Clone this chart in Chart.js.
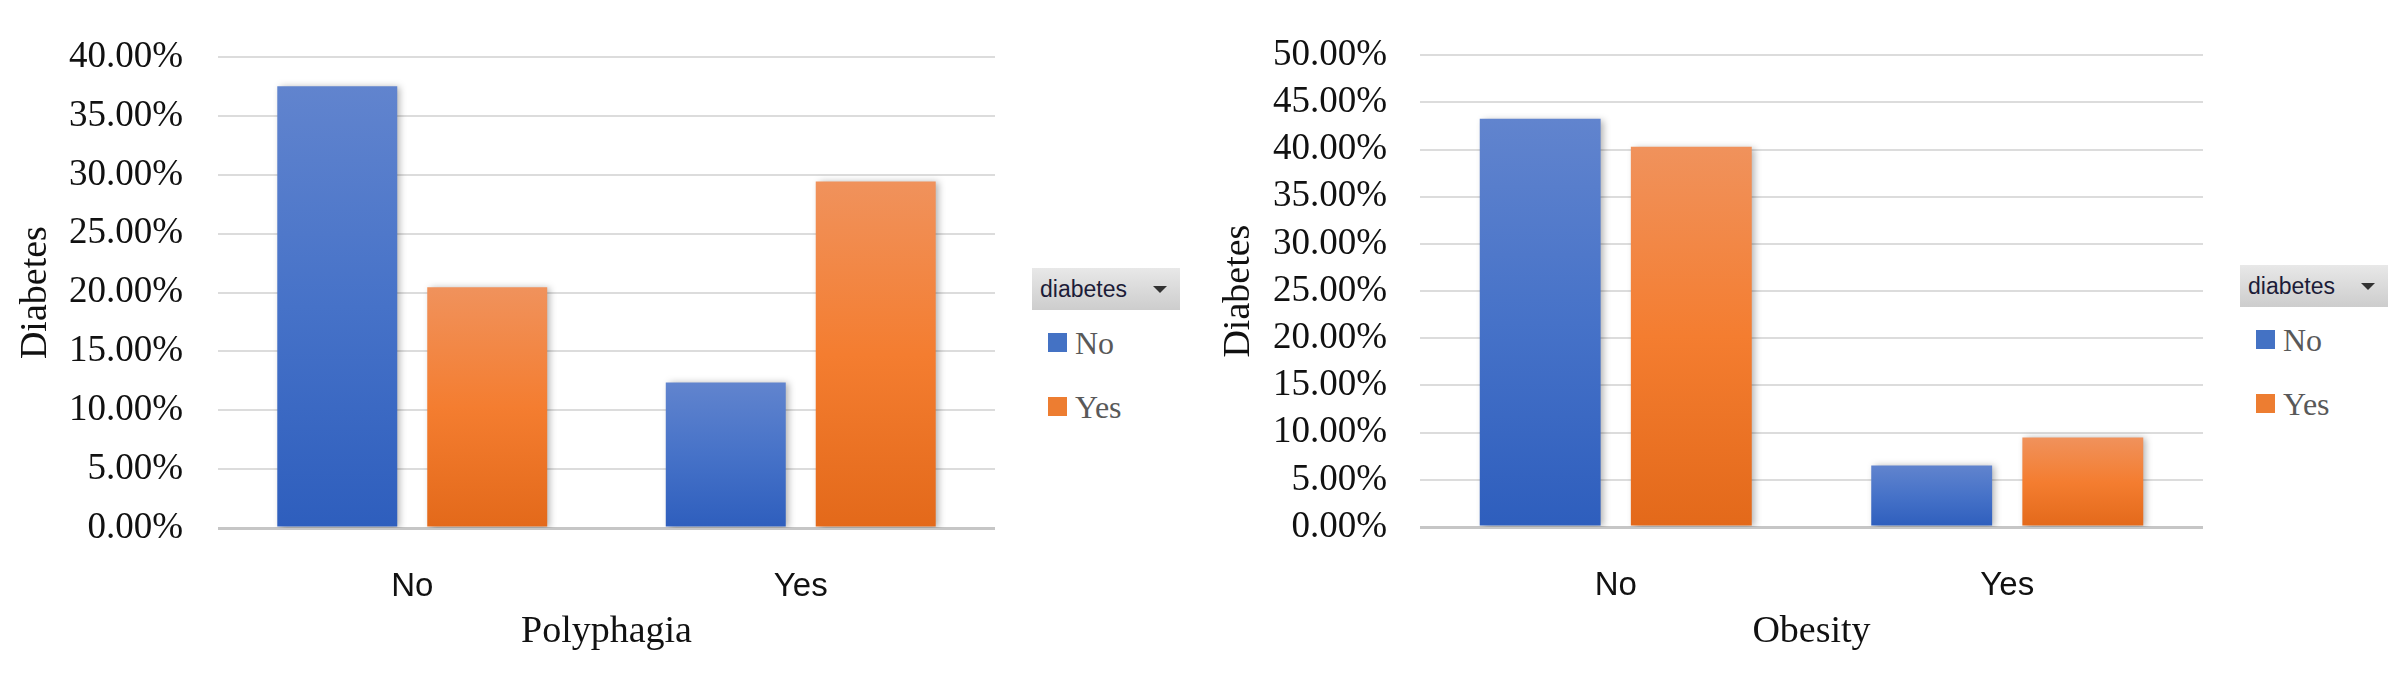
<!DOCTYPE html>
<html>
<head>
<meta charset="utf-8">
<title>Polyphagia / Obesity vs Diabetes</title>
<script src="https://cdn.jsdelivr.net/npm/chart.js@4.4.1/dist/chart.umd.min.js"></script>
<style>
  html, body { margin: 0; padding: 0; background: #fff; }
  body { width: 2403px; height: 675px; position: relative; overflow: hidden; }
  canvas { position: absolute; top: 0; }
  #polyphagia { left: 0; }
  #obesity { left: 1190px; }
  .legend-head {
    position: absolute; width: 148px; height: 42px; box-sizing: border-box;
    padding-left: 8px; background: linear-gradient(#e8e8e8, #cdcdcd);
    font-family: "Liberation Sans", sans-serif; font-size: 23px; line-height: 42px; color: #1c1c38;
  }
  .legend-head .arrow {
    position: absolute; right: 13px; top: 18px; width: 0; height: 0;
    border-left: 7px solid transparent; border-right: 7px solid transparent; border-top: 7px solid #333;
  }
  .legend-item {
    position: absolute; height: 32px; white-space: nowrap;
    font-family: "Liberation Serif", serif; font-size: 32px; line-height: 32px; color: #595959;
  }
  .legend-item .swatch { position: absolute; left: 0; top: 6px; width: 19px; height: 19px; }
  .legend-item .text { position: absolute; left: 27px; top: 0; }
</style>
</head>
<body>
<canvas id="polyphagia" width="1020" height="675"></canvas>
<canvas id="obesity" width="1030" height="675"></canvas>

<script>
// DATA

var categories = ['No', 'Yes'];
var seriesNames = ['No', 'Yes'];        // diabetes
var legendTitle = 'diabetes';

// share of patients (%), diabetes = No / Yes, per Polyphagia category
var polyphagiaNo = [37.53, 12.37];
var polyphagiaYes = [20.45, 29.44];
var polyTickLabels = ['0.00%', '5.00%', '10.00%', '15.00%', '20.00%', '25.00%', '30.00%', '35.00%', '40.00%'];

// share of patients (%), diabetes = No / Yes, per Obesity category
var obesityNo = [43.27, 6.53];
var obesityYes = [40.31, 9.49];
var obesityTickLabels = ['0.00%', '5.00%', '10.00%', '15.00%', '20.00%', '25.00%', '30.00%', '35.00%', '40.00%', '45.00%', '50.00%'];


// STYLE HELPERS

var blueStops = ['#6184ce', '#4672c8', '#2e5ebd'];
var orangeStops = ['#f0925c', '#f47d30', '#e3691a'];
var swatchColors = ['#4472c4', '#ed7d31'];

// excel-like vertical gradient, one per bar
function barGradient(stops) {
  return function(ctx) {
    var chart = ctx.chart;
    if (ctx.type !== 'data' || !chart.chartArea) return stops[1];
    var y = chart.scales.y;
    var top = y.getPixelForValue(ctx.raw);
    var bottom = y.getPixelForValue(0);
    var g = chart.ctx.createLinearGradient(0, top, 0, bottom);
    g.addColorStop(0, stops[0]);
    g.addColorStop(0.5, stops[1]);
    g.addColorStop(1, stops[2]);
    return g;
  };
}

// soft shadow behind bars
var barShadow = {
  id: 'barShadow',
  beforeDatasetsDraw: function(chart) {
    var c = chart.ctx;
    c.save();
    c.shadowColor = 'rgba(0,0,0,0.3)';
    c.shadowBlur = 7;
    c.shadowOffsetX = 3;
    c.shadowOffsetY = 1;
  },
  afterDatasetsDraw: function(chart) {
    chart.ctx.restore();
  }
};


// CHARTS

function makeChart(id, opts) {
  var ctx = document.getElementById(id).getContext('2d');
  return new Chart(ctx, {
    type: 'bar',
    data: {
      labels: categories,
      datasets: [{
        label: seriesNames[0],
        data: opts.no,
        backgroundColor: barGradient(blueStops),
        categoryPercentage: 0.772,
        barPercentage: 0.8
      },
      {
        label: seriesNames[1],
        data: opts.yes,
        backgroundColor: barGradient(orangeStops),
        categoryPercentage: 0.772,
        barPercentage: 0.8
      }]
    },
    options: {
      responsive: false,
      animation: false,
      layout: { padding: { top: opts.padTop, right: opts.padRight, left: 0, bottom: 0 } },
      plugins: { legend: { display: false }, tooltip: { enabled: false } },
      scales: {
        x: {
          grid: { display: false },
          border: { display: false },
          ticks: { padding: 31, color: '#111', font: { family: 'Liberation Sans', size: 33 } },
          title: {
            display: true, text: opts.xTitle, color: '#111',
            font: { family: 'Liberation Serif', size: 38 },
            padding: { top: 0, bottom: 20 }
          },
          afterFit: function(s) { s.height = opts.xHeight; }
        },
        y: {
          min: 0,
          max: opts.max,
          border: { display: false },
          grid: {
            drawTicks: false,
            color: function(c) { return c.tick && c.tick.value === 0 ? '#c6c6c6' : '#dcdcdc'; },
            lineWidth: function(c) { return c.tick && c.tick.value === 0 ? 3 : 2; }
          },
          ticks: {
            stepSize: 5,
            autoSkip: false,
            padding: opts.tickPad,
            color: '#111',
            font: { family: 'Liberation Serif', size: 37 },
            callback: function(v, i) { return opts.tickLabels[i]; }
          },
          title: {
            display: true, text: 'Diabetes', color: '#111',
            font: { family: 'Liberation Serif', size: 38 },
            padding: { top: opts.yTitlePad, bottom: 0 }
          },
          afterFit: function(s) { s.width = opts.yWidth; }
        }
      }
    },
    plugins: [barShadow]
  });
}

// html legend built from the chart's datasets
function buildLegend(chart, left, top) {
  var head = document.createElement('div');
  head.className = 'legend-head';
  head.style.left = left + 'px';
  head.style.top = top + 'px';
  head.textContent = legendTitle;
  var arrow = document.createElement('span');
  arrow.className = 'arrow';
  head.appendChild(arrow);
  document.body.appendChild(head);

  chart.data.datasets.forEach(function(ds, i) {
    var item = document.createElement('div');
    item.className = 'legend-item';
    item.style.left = (left + 16) + 'px';
    item.style.top = (top + 59 + i * 64) + 'px';
    var sw = document.createElement('span');
    sw.className = 'swatch';
    sw.style.background = swatchColors[i];
    var tx = document.createElement('span');
    tx.className = 'text';
    tx.textContent = ds.label;
    item.appendChild(sw);
    item.appendChild(tx);
    document.body.appendChild(item);
  });
}

var polyChart = makeChart('polyphagia', {
  no: polyphagiaNo, yes: polyphagiaYes, max: 40, tickLabels: polyTickLabels,
  xTitle: 'Polyphagia', padTop: 43, padRight: 25, xHeight: 147,
  yWidth: 218, tickPad: 35, yTitlePad: 13
});

var obesityChart = makeChart('obesity', {
  no: obesityNo, yes: obesityYes, max: 50, tickLabels: obesityTickLabels,
  xTitle: 'Obesity', padTop: 37, padRight: 17, xHeight: 148,
  yWidth: 230, tickPad: 33, yTitlePad: 26
});

buildLegend(polyChart, 1032, 268);
buildLegend(obesityChart, 2240, 265);
</script>
</body>
</html>
